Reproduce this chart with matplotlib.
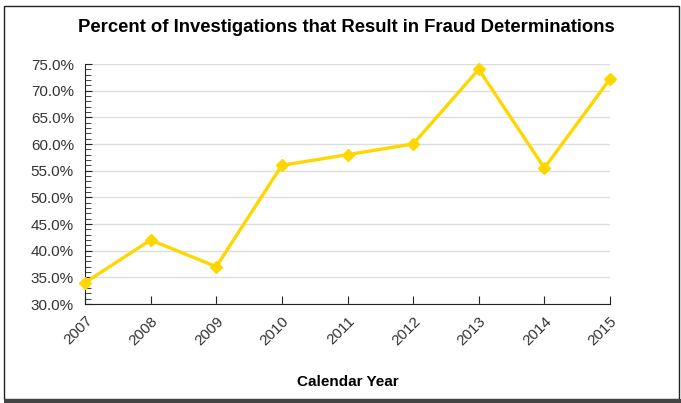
import numpy as np
import matplotlib.pyplot as plt
from matplotlib.patches import Rectangle
from matplotlib.ticker import MultipleLocator, FuncFormatter

plt.rcParams['font.family'] = ['Liberation Sans', 'DejaVu Sans']

years = ['2007', '2008', '2009', '2010', '2011', '2012', '2013', '2014', '2015']
pct = [34.0, 42.0, 37.0, 56.0, 58.0, 60.0, 74.0, 55.5, 72.2]

W, H = 681, 403
fig = plt.figure(figsize=(W / 100, H / 100), dpi=100)
ax = fig.add_axes([85 / W, 1 - 304 / H, (610 - 85) / W, (304 - 64) / H])

x = np.arange(len(years))
ax.plot(x, pct, color='#FFD700', lw=2.4, marker='D', ms=6.5, mec='#FFD700', zorder=3, clip_on=False)

ax.set_xlim(0, len(years) - 1)
ax.set_ylim(30, 75)
ax.yaxis.set_major_locator(MultipleLocator(5))
ax.yaxis.set_minor_locator(MultipleLocator(1))
ax.yaxis.set_major_formatter(FuncFormatter(lambda v, p: '%.1f%%' % v))
ax.set_xticks(x)
ax.set_xticklabels(years, rotation=45, ha='right', rotation_mode='anchor')
ax.tick_params(axis='both', which='both', direction='in', colors='#222222',
               labelsize=11, labelcolor='#333333')
ax.tick_params(axis='y', which='major', length=5, pad=8)
ax.tick_params(axis='y', which='minor', length=4)
ax.tick_params(axis='x', length=6, pad=7)
ax.grid(axis='y', color='#dddddd', lw=1)
ax.set_axisbelow(True)
for s in ['top', 'right']:
    ax.spines[s].set_visible(False)
for s in ['left', 'bottom']:
    ax.spines[s].set_color('#222222')

ax.set_xlabel('Calendar Year', fontsize=11, fontweight='bold', labelpad=20)
fig.text(346 / W, 1 - 28 / H, 'Percent of Investigations that Result in Fraud Determinations',
         ha='center', va='center', fontsize=13.3, fontweight='bold', color='black')

# outer border
fig.patches.append(Rectangle((4 / W, 1 - 399 / H), 675 / W, 393 / H, transform=fig.transFigure,
                             fill=False, edgecolor='#222222', lw=1))
fig.patches.append(Rectangle((4 / W, 0), 677 / W, 4 / H, transform=fig.transFigure,
                             facecolor='#444444', edgecolor='none'))

fig.savefig('out.png', dpi=100)
